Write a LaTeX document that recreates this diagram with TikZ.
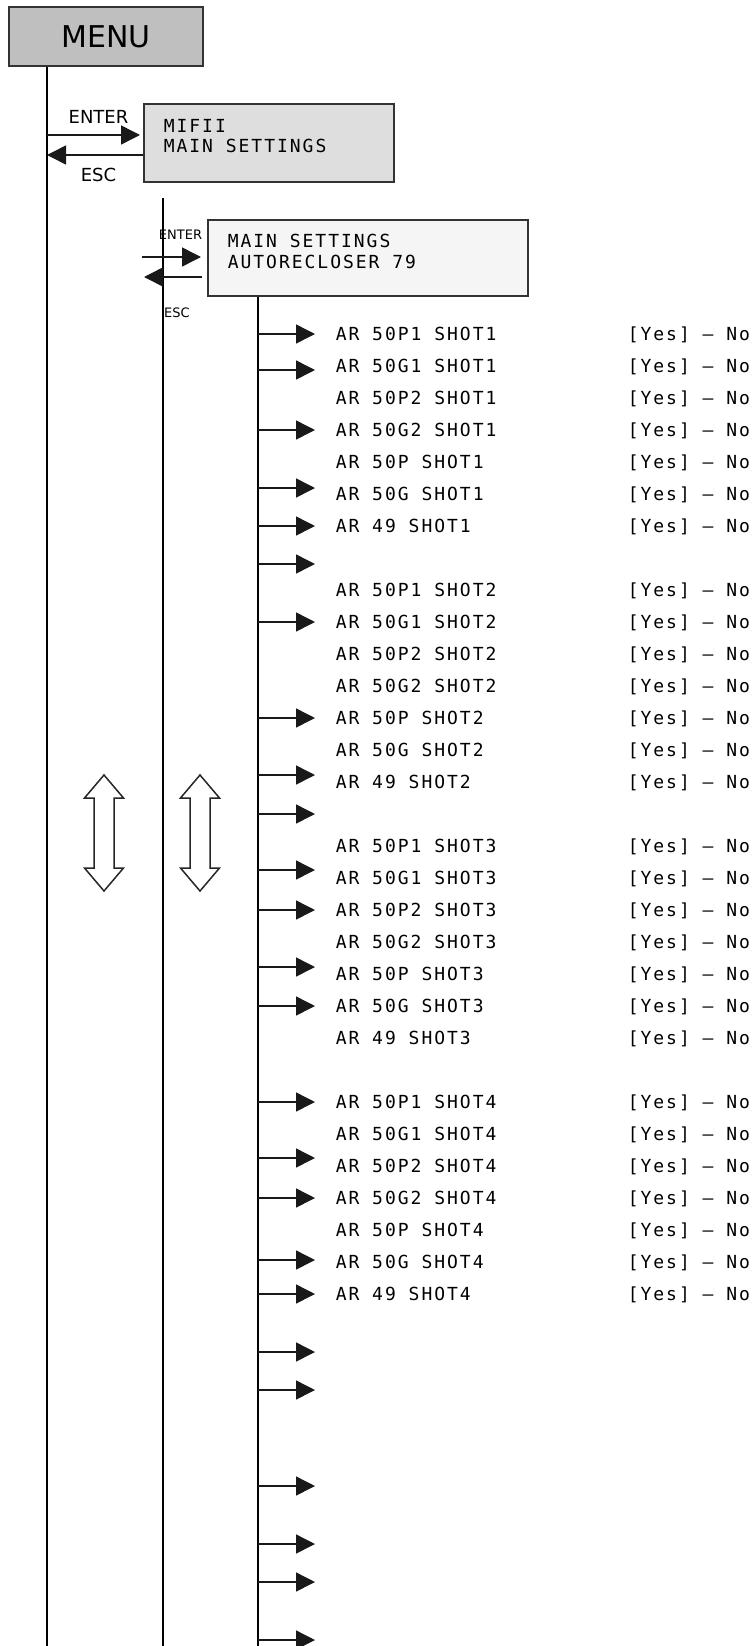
\documentclass[tikz,border=0pt]{standalone}
\usepackage{fontspec}
\setmainfont{DejaVu Sans}
\newfontfamily\lcdfont[LetterSpace=11]{DejaVu Sans Mono}
\usetikzlibrary{arrows.meta,calc,positioning}

\begin{document}
\begin{tikzpicture}[x=1pt,y=-1pt,line width=1.5pt]
  \tikzset{box/.style={draw=black!80,line width=1.8pt,rectangle,inner sep=0pt,anchor=north west}}
  \tikzset{boxtxt/.style={anchor=north west,inner sep=0pt,align=left,font=\lcdfont\fontsize{18}{20.5}\selectfont}}
  \tikzset{keylbl/.style={inner sep=0pt,font=\fontsize{18}{18}\selectfont}}
  \tikzset{smallkey/.style={inner sep=0pt,font=\fontsize{13}{13}\selectfont}}
  \tikzset{arr/.style={draw=black!90,-{Triangle[length=19pt,width=19pt]}}}
  \tikzset{item/.style={anchor=west,inner sep=0pt,text height=13.1pt,text depth=0pt,font=\lcdfont\fontsize{18}{18}\selectfont}}
  \tikzset{updown/.style={draw=black!85,line width=1.5pt,fill=white,line join=miter}}

  \useasboundingbox (0,0) rectangle (755,1646);

  % x of the three level lines
  \def\la{47}
  \def\lb{163}
  \def\lc{258}
  \def\yend{1646}

  % Boxes
  \node[box,fill=black!25,minimum width=194,minimum height=59,font=\fontsize{30}{30}\selectfont] (menu) at (8,6) {MENU};
  \node[box,fill=black!13,minimum width=250,minimum height=78] (mifii) at (143,103) {};
  \node[boxtxt] (mifiitxt) at (163,118.5) {MIFII\\MAIN SETTINGS};
  \node[box,fill=black!4,minimum width=320,minimum height=76] (ar79) at (207,219) {};
  \node[boxtxt] (ar79txt) at (227,233.5) {MAIN SETTINGS\\AUTORECLOSER 79};

  % Level lines
  \coordinate (a1) at (\la,\yend);
  \draw (a1 |- menu.south) -- (a1);
  \coordinate (b0) at (\lb,198);
  \coordinate (b1) at (\lb,\yend);
  \draw (b0) -- (b1);
  \coordinate (c1) at (\lc,\yend);
  \draw (c1 |- ar79.south) -- (c1);

  % ENTER / ESC, level 1
  \coordinate (ent1) at (\la,135);
  \coordinate (esc1) at (\la,155);
  \draw[arr,shorten >=3pt] (ent1) -- (ent1 -| mifii.west);
  \draw[arr] (esc1 -| mifii.west) -- (esc1);
  \node[keylbl] (entlbl1) at (98.5,117) {ENTER};
  \node[keylbl] (esclbl1) at (98.5,175) {ESC};

  % ENTER / ESC, level 2
  \coordinate (ent2) at (142,257);
  \coordinate (esc2) at (144,277);
  \draw[arr,shorten >=6pt] (ent2) -- (ent2 -| ar79.west);
  \draw[arr,shorten <=5pt] (esc2 -| ar79.west) -- (esc2);
  \node[smallkey] (entlbl2) at (180.5,235) {ENTER};
  \node[smallkey] (esclbl2) at (177,313) {ESC};

  % Settings rows
  \foreach \s in {1,...,4}{
    \foreach \fn [count=\j from 0] in {50P1,50G1,50P2,50G2,50P,50G,49}{
      \pgfmathsetmacro\yrow{334+32*(8*(\s-1)+\j)}
      \node[item] (ar\s\j) at (335,\yrow) {AR \fn\ SHOT\s};
      \node[item] (yn\s\j) at (627,\yrow) {[Yes] – No};
    }
  }

  % Row arrows
  \foreach \y [count=\i] in {334,370,430,488,526,564,622,718,775,814,870,910,967,1006,1102,1158,1198,1260,1294,1352,1390,1486,1544,1582,1640}{
    \coordinate (s\i) at (\lc,\y);
    \coordinate (t\i) at (315,\y);
    \draw[arr] (s\i) -- (t\i);
  }

  % Scroll arrows
  \foreach \cx in {104,200}{
    \draw[updown] (\cx,775) -- ++(19.5,23) -- ++(-9.5,0) -- ++(0,70) -- ++(9.5,0) -- (\cx,891)
      -- ++(-19.5,-23) -- ++(9.5,0) -- ++(0,-70) -- ++(-9.5,0) -- cycle;
  }
\end{tikzpicture}
\end{document}
